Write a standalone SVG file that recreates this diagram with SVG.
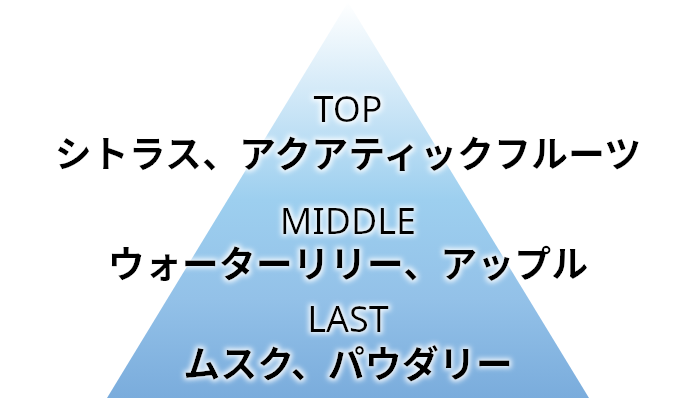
<svg xmlns="http://www.w3.org/2000/svg" width="697" height="419" viewBox="0 0 697 419">
  <defs>
    <linearGradient id="pyr" x1="0" y1="0" x2="0" y2="1">
      <stop offset="0" stop-color="#ffffff"/>
      <stop offset="0.5" stop-color="#9dcfef"/>
      <stop offset="0.75" stop-color="#93c1e8"/>
      <stop offset="1" stop-color="#7aacdc"/>
    </linearGradient>
    <filter id="glow" x="-10%" y="-30%" width="120%" height="160%">
      <feMorphology in="SourceAlpha" operator="dilate" radius="2" result="d"/>
      <feGaussianBlur in="d" stdDeviation="2.5" result="b"/>
      <feFlood flood-color="#ffffff" flood-opacity="0.85"/>
      <feComposite in2="b" operator="in" result="g"/>
      <feMerge>
        <feMergeNode in="g"/>
        <feMergeNode in="SourceGraphic"/>
      </feMerge>
    </filter>
  </defs>
  <style>
    .lat { font-family: "Noto Sans", "Liberation Sans", sans-serif; font-size: 36px; fill: #000; text-anchor: middle; }
    .jp { font-family: "Noto Sans CJK JP", "Noto Sans", sans-serif; font-size: 37px; font-weight: bold; fill: #000; text-anchor: middle; }
  </style>
  <g id="pyramid">
    <polygon points="348,2 589,398 107,398" fill="url(#pyr)"/>
  </g>
  <g id="top" filter="url(#glow)">
    <text class="lat" x="348" y="122">TOP</text>
    <text class="jp" x="348" y="168">シトラス、アクアティックフルーツ</text>
  </g>
  <g id="middle" filter="url(#glow)">
    <text class="lat" x="348" y="234">MIDDLE</text>
    <text class="jp" x="348" y="278">ウォーターリリー、アップル</text>
  </g>
  <g id="last" filter="url(#glow)">
    <text class="lat" x="348" y="332">LAST</text>
    <text class="jp" x="348" y="378">ムスク、パウダリー</text>
  </g>
</svg>
